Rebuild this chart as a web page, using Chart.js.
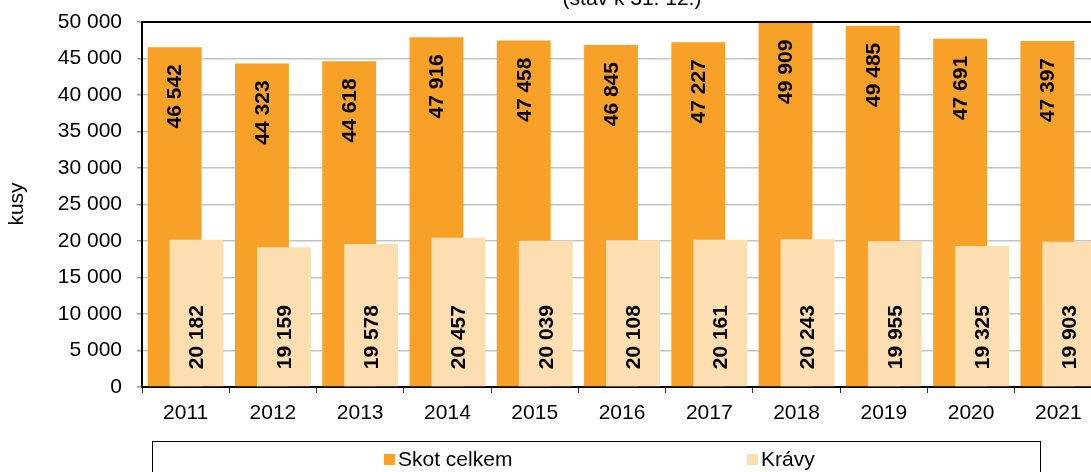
<!DOCTYPE html>
<html>
<head>
<meta charset="utf-8">
<script src="https://cdn.jsdelivr.net/npm/chart.js@4"></script>
<style>
  html, body { margin: 0; padding: 0; background: #fff; overflow: hidden; }
  #wrap { width: 1091px; height: 472px; overflow: hidden; position: relative; }
  canvas { display: block; }
</style>
</head>
<body>
<div id="wrap"><canvas id="chart" width="1110" height="472"></canvas></div>
<script>
// data
const years = ['2011', '2012', '2013', '2014', '2015', '2016', '2017', '2018', '2019', '2020', '2021'];
const skotCelkem = [46542, 44323, 44618, 47916, 47458, 46845, 47227, 49909, 49485, 47691, 47397];
const kravy = [20182, 19159, 19578, 20457, 20039, 20108, 20161, 20243, 19955, 19325, 19903];
const seriesNames = ['Skot celkem', 'Krávy'];
const subtitle = '(stav k 31. 12.)';
const yTitle = 'kusy';

const FONT = '"Liberation Sans", Arial, sans-serif';
const ORANGE = '#F8A128';
const LIGHT = '#FDDEB1';

function fmt(v) {
  return String(v).replace(/\B(?=(\d{3})+(?!\d))/g, ' ');
}

// Krávy bars must be painted over the orange ones
const drawOrder = {
  id: 'drawOrder',
  beforeDatasetDraw(chart, args) {
    if (args.index === 1) chart.getDatasetMeta(0).controller.draw();
    if (args.index === 0) return false;
  }
};

const extras = {
  id: 'extras',
  afterDatasetsDraw(chart) {
    const ctx = chart.ctx;
    ctx.save();
    ctx.fillStyle = '#000';
    ctx.font = 'bold 21px ' + FONT;
    ctx.textBaseline = 'middle';
    chart.getDatasetMeta(0).data.forEach((bar, i) => {
      ctx.save();
      ctx.translate(bar.x, bar.y + 17);
      ctx.rotate(-Math.PI / 2);
      ctx.textAlign = 'right';
      ctx.fillText(fmt(skotCelkem[i]), 0, 1);
      ctx.restore();
    });
    chart.getDatasetMeta(1).data.forEach((bar, i) => {
      ctx.save();
      ctx.translate(bar.x, bar.base - 17);
      ctx.rotate(-Math.PI / 2);
      ctx.textAlign = 'left';
      ctx.fillText(fmt(kravy[i]), 0, 1);
      ctx.restore();
    });
    ctx.restore();
  },
  afterDraw(chart) {
    const ctx = chart.ctx;
    const a = chart.chartArea;
    ctx.save();
    // top frame line
    ctx.strokeStyle = '#000';
    ctx.lineWidth = 2;
    ctx.beginPath();
    ctx.moveTo(a.left - 1, a.top);
    ctx.lineTo(a.right, a.top);
    ctx.stroke();
    ctx.beginPath();
    ctx.moveTo(a.right, a.top);
    ctx.lineTo(a.right, a.bottom);
    ctx.stroke();

    // subtitle (cut at the top)
    ctx.fillStyle = '#000';
    ctx.font = '21px ' + FONT;
    ctx.textAlign = 'center';
    ctx.textBaseline = 'alphabetic';
    ctx.fillText(subtitle, 632, 5);

    // y title
    ctx.save();
    ctx.translate(17, 204);
    ctx.rotate(-Math.PI / 2);
    ctx.textBaseline = 'middle';
    ctx.fillText(yTitle, 0, 0);
    ctx.restore();

    // legend box
    ctx.lineWidth = 1;
    ctx.strokeStyle = '#000';
    ctx.strokeRect(152.5, 441.5, 888, 60);
    const items = [[384, ORANGE], [747, LIGHT]];
    ctx.textAlign = 'left';
    ctx.textBaseline = 'middle';
    items.forEach(([x, c], i) => {
      ctx.fillStyle = c;
      ctx.fillRect(x, 454, 11, 11);
      ctx.fillStyle = '#000';
      ctx.fillText(seriesNames[i], x + 14, 460);
    });
    ctx.restore();
  }
};

new Chart(document.getElementById('chart'), {
  type: 'bar',
  data: {
    labels: years,
    datasets: [
      { label: seriesNames[0], data: skotCelkem, backgroundColor: ORANGE,
        categoryPercentage: 0.504, barPercentage: 2.45 },
      { label: seriesNames[1], data: kravy, backgroundColor: LIGHT,
        categoryPercentage: 0.504, barPercentage: 2.45 }
    ]
  },
  options: {
    responsive: false,
    animation: false,
    layout: { padding: { top: 22, right: 8, bottom: 0, left: 0 } },
    plugins: { legend: { display: false }, tooltip: { enabled: false } },
    scales: {
      x: {
        afterFit(s) { s.height = 85; s.paddingLeft = 0; s.paddingRight = 0; },
        grid: { display: true, drawOnChartArea: false, color: '#333', tickLength: 6, offset: true },
        border: { color: '#000', width: 2 },
        ticks: { color: '#000', font: { family: FONT, size: 21 }, padding: 8, maxRotation: 0 }
      },
      y: {
        min: 0, max: 50000,
        afterFit(s) { s.width = 142; s.paddingTop = 0; s.paddingBottom = 0; },
        grid: { color: '#c4c4c4', lineWidth: 1.5, tickLength: 5, tickColor: '#999' },
        border: { color: '#000', width: 2 },
        ticks: { stepSize: 5000, color: '#000', font: { family: FONT, size: 21 }, padding: 15,
          callback: v => fmt(v) }
      }
    }
  },
  plugins: [drawOrder, extras]
});
</script>
</body>
</html>
